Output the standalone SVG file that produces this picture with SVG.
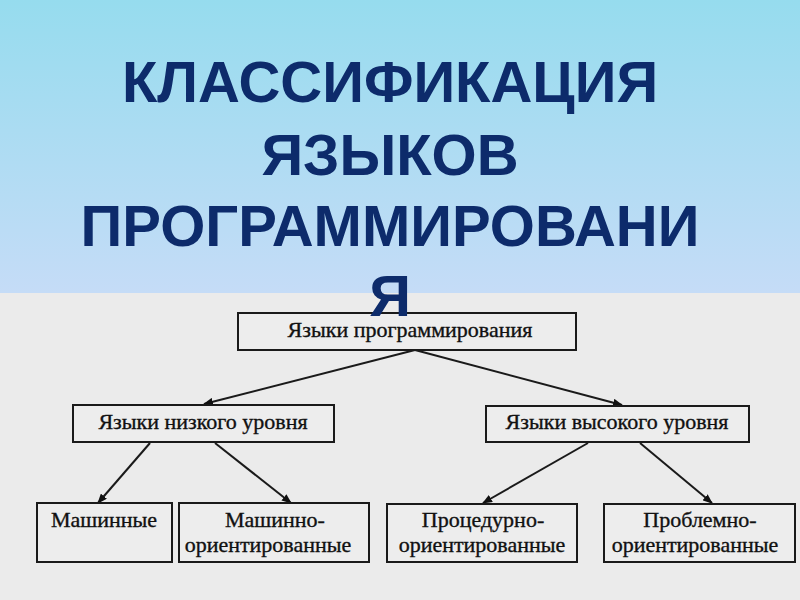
<svg xmlns="http://www.w3.org/2000/svg" width="800" height="600" viewBox="0 0 800 600">
  <defs>
    <linearGradient id="sky" x1="0" y1="0" x2="0" y2="1">
      <stop offset="0" stop-color="#96dcee"/>
      <stop offset="1" stop-color="#c5dcf7"/>
    </linearGradient>
    <marker id="arr" markerUnits="userSpaceOnUse" markerWidth="10" markerHeight="8" refX="9" refY="4" orient="auto">
      <path d="M0,0 L10,4 L0,8 z" fill="#111"/>
    </marker>
    <style>
      .box { fill: #ededed; stroke: #1a1a1a; stroke-width: 2; }
      .lbl { font-family: "Liberation Serif", "Times New Roman", serif; font-size: 22px; fill: #111; stroke: #111; stroke-width: 0.35; text-anchor: middle; }
      .edge { stroke: #1a1a1a; stroke-width: 2; fill: none; marker-end: url(#arr); }
      .title { font-family: "Liberation Sans", Arial, sans-serif; font-weight: bold; font-size: 58px; fill: #0d2b6b; text-anchor: middle; }
    </style>
  </defs>

  <rect x="0" y="0" width="800" height="293" fill="url(#sky)"/>
  <rect x="0" y="293" width="800" height="307" fill="#ebebeb"/>

  <g id="connectors">
    <line class="edge" x1="415" y1="350" x2="204" y2="404"/>
    <line class="edge" x1="415" y1="350" x2="622" y2="405"/>
    <line class="edge" x1="150" y1="443" x2="98" y2="503"/>
    <line class="edge" x1="215" y1="443" x2="291" y2="503"/>
    <line class="edge" x1="588" y1="443" x2="483" y2="503"/>
    <line class="edge" x1="640" y1="443" x2="712" y2="503"/>
  </g>

  <g id="node-root">
    <rect class="box" x="238" y="313" width="338" height="37"/>
    <text class="lbl" x="410" y="337">Языки программирования</text>
  </g>
  <g id="node-low">
    <rect class="box" x="73" y="405" width="261" height="37"/>
    <text class="lbl" x="203" y="429">Языки низкого уровня</text>
  </g>
  <g id="node-high">
    <rect class="box" x="486" y="406" width="263" height="36"/>
    <text class="lbl" x="617" y="429">Языки высокого уровня</text>
  </g>
  <g id="node-machine">
    <rect class="box" x="37" y="503" width="135" height="59"/>
    <text class="lbl" x="104" y="527">Машинные</text>
  </g>
  <g id="node-machine-oriented">
    <rect class="box" x="179" y="503" width="190" height="59"/>
    <text class="lbl" x="275" y="527">Машинно-</text>
    <text class="lbl" x="268" y="552">ориентированные</text>
  </g>
  <g id="node-procedural">
    <rect class="box" x="387" y="504" width="190" height="58"/>
    <text class="lbl" x="483" y="527">Процедурно-</text>
    <text class="lbl" x="482" y="552">ориентированные</text>
  </g>
  <g id="node-problem">
    <rect class="box" x="604" y="504" width="191" height="58"/>
    <text class="lbl" x="700" y="527">Проблемно-</text>
    <text class="lbl" x="695" y="552">ориентированные</text>
  </g>

  <g id="title">
    <text class="title" x="390" y="102">КЛАССИФИКАЦИЯ</text>
    <text class="title" x="390" y="175">ЯЗЫКОВ</text>
    <text class="title" x="390" y="246">ПРОГРАММИРОВАНИ</text>
    <text class="title" x="390" y="316">Я</text>
  </g>
</svg>
